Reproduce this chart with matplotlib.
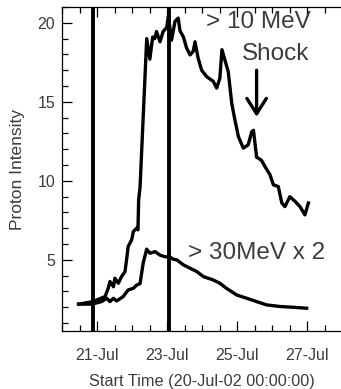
import matplotlib
matplotlib.use("Agg")
import matplotlib.pyplot as plt
from matplotlib.ticker import MultipleLocator, FixedLocator, FixedFormatter

plt.rcParams['font.family'] = ['Liberation Sans', 'DejaVu Sans']

# Time axis: days since 20-Jul-02 00:00:00
tick_days = [1, 3, 5, 7]
tick_labels = ['21-Jul', '23-Jul', '25-Jul', '27-Jul']

# >10 MeV proton intensity
t10 = [0.49, 0.85, 1.04, 1.23, 1.32, 1.37, 1.47, 1.51, 1.61, 1.70, 1.80, 1.85,
       1.89, 1.99, 2.04, 2.13, 2.17, 2.19, 2.23, 2.42, 2.51, 2.59, 2.65, 2.70,
       2.80, 2.89, 2.99, 3.04, 3.13, 3.23, 3.32, 3.37, 3.47, 3.56, 3.66, 3.75,
       3.80, 3.89, 3.99, 4.13, 4.32, 4.42, 4.51, 4.57, 4.66, 4.75, 4.85, 4.94,
       5.04, 5.18, 5.32, 5.42, 5.47, 5.56, 5.70, 5.80, 5.94, 6.04, 6.18, 6.28,
       6.37, 6.51, 6.66, 6.80, 6.94, 7.04]
p10 = [2.2, 2.35, 2.5, 2.68, 3.2, 3.63, 3.3, 3.84, 3.52, 3.94, 4.26, 5.1,
       5.84, 6.27, 6.8, 7.0, 6.9, 8.8, 9.6, 19.0, 17.7, 19.1, 19.0, 19.45,
       18.8, 19.45, 19.7, 20.4, 18.9, 20.1, 20.3, 19.5, 19.1, 18.4, 17.97, 18.2,
       18.8, 17.76, 17.0, 16.6, 16.3, 15.87, 16.5, 18.3, 17.6, 16.9, 14.9, 13.86,
       12.8, 12.07, 12.28, 13.1, 13.2, 11.5, 11.3, 10.9, 10.4, 9.75, 9.64, 8.6,
       8.37, 9.0, 8.7, 8.37, 7.85, 8.6]

# >30 MeV proton intensity, scaled by 2
t30 = [0.47, 0.85, 1.13, 1.28, 1.37, 1.47, 1.56, 1.75, 1.89, 2.04, 2.13, 2.23,
       2.32, 2.42, 2.51, 2.66, 2.80, 2.94, 3.09, 3.18, 3.28, 3.47, 3.66, 3.85,
       4.04, 4.32, 4.51, 4.70, 4.99, 5.28, 5.56, 5.85, 6.23, 6.61, 6.99]
p30_x2 = [2.2, 2.2, 2.36, 2.57, 2.36, 2.57, 2.4, 2.68, 3.1, 3.2, 3.4, 3.5,
          4.8, 5.68, 5.42, 5.52, 5.3, 5.2, 5.17, 5.04, 5.0, 4.68, 4.47, 4.26,
          3.94, 3.73, 3.52, 3.2, 2.78, 2.57, 2.36, 2.15, 2.05, 2.0, 1.94]

# Event markers (vertical lines)
event_days = [0.89, 3.06]

# Shock arrival
shock_day = 5.56

text_color = '#3c3c3c'

fig = plt.figure(figsize=(3.41, 3.89), dpi=100)
ax = fig.add_axes([62 / 341, 1 - 331 / 389, 280 / 341, 324 / 389])

ax.plot(t10, p10, color='black', lw=2.4, solid_joinstyle='round')
ax.plot(t30, p30_x2, color='black', lw=2.4, solid_joinstyle='round')
for d in event_days:
    ax.axvline(d, color='black', lw=2.8)

ax.set_xlim(0, 8)
ax.set_ylim(0.5, 21)

ax.xaxis.set_major_locator(FixedLocator(tick_days))
ax.xaxis.set_major_formatter(FixedFormatter(tick_labels))
ax.xaxis.set_minor_locator(MultipleLocator(0.5))
ax.yaxis.set_major_locator(MultipleLocator(5))
ax.yaxis.set_minor_locator(MultipleLocator(1))

ax.tick_params(axis='both', which='both', direction='in', colors='black',
               labelcolor=text_color, labelsize=11.5, width=0.9)
ax.tick_params(axis='x', which='both', top=True, bottom=True, pad=12)
ax.tick_params(axis='y', which='both', left=True, right=False, pad=5)
ax.tick_params(which='major', length=7)
ax.tick_params(which='minor', length=4)

for s in ax.spines.values():
    s.set_linewidth(0.9)
ax.spines['right'].set_visible(False)

ax.set_xlabel('Start Time (20-Jul-02 00:00:00)', fontsize=11.7,
              color=text_color, labelpad=8)
ax.set_ylabel('Proton Intensity', fontsize=12.5, color=text_color, labelpad=9)

ax.text(5.61, 20.06, '> 10 MeV', fontsize=17.5, color=text_color,
        ha='center', va='center')
ax.text(6.1, 18.04, 'Shock', fontsize=17.5, color=text_color,
        ha='center', va='center')
ax.text(5.57, 5.44, '> 30MeV x 2', fontsize=17.5, color=text_color,
        ha='center', va='center')
ax.annotate('', xy=(shock_day, 14.05), xytext=(shock_day, 17.0),
            arrowprops=dict(arrowstyle='->,head_length=0.55,head_width=0.35',
                            color='black', lw=2.4, mutation_scale=20,
                            shrinkA=0, shrinkB=0))

fig.savefig('out.png', dpi=100)
